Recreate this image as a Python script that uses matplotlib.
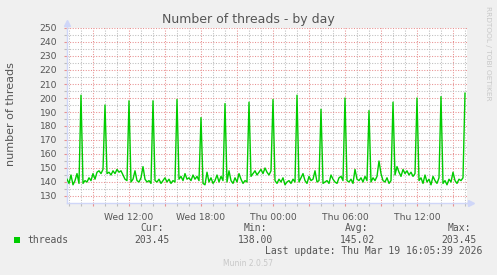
import numpy as np
import pandas as pd
import matplotlib
matplotlib.use("Agg")
import matplotlib.pyplot as plt
import matplotlib.dates as mdates
from matplotlib.patches import Rectangle

plt.rcParams['font.family'] = ['DejaVu Sans']

# threads, one value per 10 min, each row ends on the 2-hourly spike
threads = [
    142, 139, 145, 138, 141, 146, 139, 202,
    139, 141, 140, 143, 141, 146, 142, 147, 148, 146, 149, 195,
    146, 147, 145, 148, 146, 149, 147, 148, 145, 142, 141, 198,
    140, 142, 148, 141, 140, 143, 151, 142, 140, 141, 139, 198,
    141, 140, 142, 139, 141, 143, 140, 142, 139, 141, 140, 199,
    142, 144, 141, 146, 142, 143, 141, 145, 142, 144, 141, 186,
    139, 138, 147, 140, 143, 139, 141, 145, 140, 144, 141, 196,
    140, 148, 141, 139, 143, 140, 146, 142, 139, 141, 140, 197,
    144, 146, 148, 145, 147, 149, 146, 150, 147, 145, 148, 199,
    141, 139, 142, 140, 143, 138, 140, 141, 139, 142, 140, 202,
    140, 143, 146, 141, 139, 144, 141, 142, 148, 140, 141, 192,
    139, 140, 141, 139, 145, 142, 140, 139, 143, 144, 141, 200,
    141, 140, 142, 139, 149, 142, 141, 143, 140, 144, 141, 191,
    140, 143, 141, 144, 155, 146, 141, 140, 143, 139, 141, 197,
    145, 151, 147, 144, 149, 146, 148, 145, 147, 144, 146, 200,
    141, 143, 139, 145, 140, 142, 138, 144, 141, 139, 143, 201,
    139, 141, 138, 142, 140, 147, 141, 139, 142, 141, 143, 203.45,
]
start_time = "2026-03-18 06:50"
x_start, x_end = "2026-03-18 06:50", "2026-03-19 16:10"
y_min, y_max = 125, 250

legend_label = "threads"
stat_names = ["Cur:", "Min:", "Avg:", "Max:"]
stat_values = ["203.45", "138.00", "145.02", "203.45"]
last_update = "Last update: Thu Mar 19 16:05:39 2026"

times = pd.date_range(start_time, periods=len(threads), freq="10min")

W, H = 497, 275
FONT = '#555555'
AXIS = '#CFD6F8'
GREEN = '#00CC00'
MGRID = '#E89090'
GRID = '#BDBDBD'

fig = plt.figure(figsize=(W / 100, H / 100), dpi=100, facecolor='#F0F0F0')
ax = fig.add_axes([67 / W, 1 - 203 / H, 400 / W, 175 / H])
ax.set_facecolor('white')

ax.plot(times, threads, color=GREEN, linewidth=1.0, zorder=3)

ax.set_xlim(pd.Timestamp(x_start), pd.Timestamp(x_end))
ax.set_ylim(y_min, y_max)

# grid: red major, grey minor, both dotted
ax.set_yticks(np.arange(130, 251, 10))
ax.set_yticks(np.arange(135, 250, 10), minor=True)
ax.xaxis.set_major_locator(mdates.HourLocator(byhour=range(0, 24, 3)))
ax.xaxis.set_minor_locator(mdates.HourLocator())
ax.xaxis.set_major_formatter(plt.FuncFormatter(
    lambda v, p: mdates.num2date(v).strftime('%a %H:%M')
    if mdates.num2date(v).hour % 6 == 0 else ''))

ax.grid(True, which='major', color=MGRID, linestyle=(0, (1, 1.5)), linewidth=0.75)
ax.grid(True, which='minor', color=GRID, linestyle=(0, (1, 1.5)), linewidth=0.75)
ax.set_axisbelow(True)

ax.tick_params(which='major', length=2, width=0.8, color=MGRID,
               labelsize=6.6, labelcolor=FONT, pad=5)
ax.tick_params(which='minor', length=2, width=0.8, color=GRID)

for s in ['top', 'right']:
    ax.spines[s].set_visible(False)
for s in ['left', 'bottom']:
    ax.spines[s].set_color(AXIS)
    ax.spines[s].set_linewidth(1.0)

# axis arrows
ax.plot([0], [1.03], marker='^', markersize=4, color=AXIS, transform=ax.transAxes, clip_on=False)
ax.plot([1.01], [0], marker='>', markersize=4, color=AXIS, transform=ax.transAxes, clip_on=False)
ax.plot([0, 0], [1.0, 1.03], color=AXIS, lw=1.0, transform=ax.transAxes, clip_on=False)
ax.plot([1.0, 1.01], [0, 0], color=AXIS, lw=1.0, transform=ax.transAxes, clip_on=False)

def px(x, y):
    return x / W, 1 - y / H

fig.text(*px(248.5, 19), "Number of threads - by day", ha='center', va='center',
         fontsize=9, color=FONT)
fig.text(*px(11, 114), "number of threads", ha='center', va='center',
         rotation=90, fontsize=8, color=FONT)
fig.text(*px(488, 53), "RRDTOOL / TOBI OETIKER", ha='center', va='center',
         rotation=270, fontsize=5.3, color='#C8C8C8')

# legend
fig.patches.append(Rectangle(px(14, 243), 6 / W, 6 / H, transform=fig.transFigure,
                             facecolor=GREEN, edgecolor='none'))
fig.text(*px(27, 240), legend_label, ha='left', va='center',
         fontsize=7, color=FONT, family='DejaVu Sans Mono')
stat_x = [152, 255, 357, 459]
for sx, name, val in zip(stat_x, stat_names, stat_values):
    fig.text(*px(sx, 228), name, ha='center', va='center',
             fontsize=7, color=FONT, family='DejaVu Sans Mono')
    fig.text(*px(sx, 240), val, ha='center', va='center',
             fontsize=7, color=FONT, family='DejaVu Sans Mono')
fig.text(*px(482, 251.5), last_update, ha='right', va='center',
         fontsize=7, color=FONT, family='DejaVu Sans Mono')
fig.text(*px(248, 264), "Munin 2.0.57", ha='center', va='center',
         fontsize=5.5, color='#C8C8C8')

fig.savefig("out.png", dpi=100, facecolor=fig.get_facecolor())
